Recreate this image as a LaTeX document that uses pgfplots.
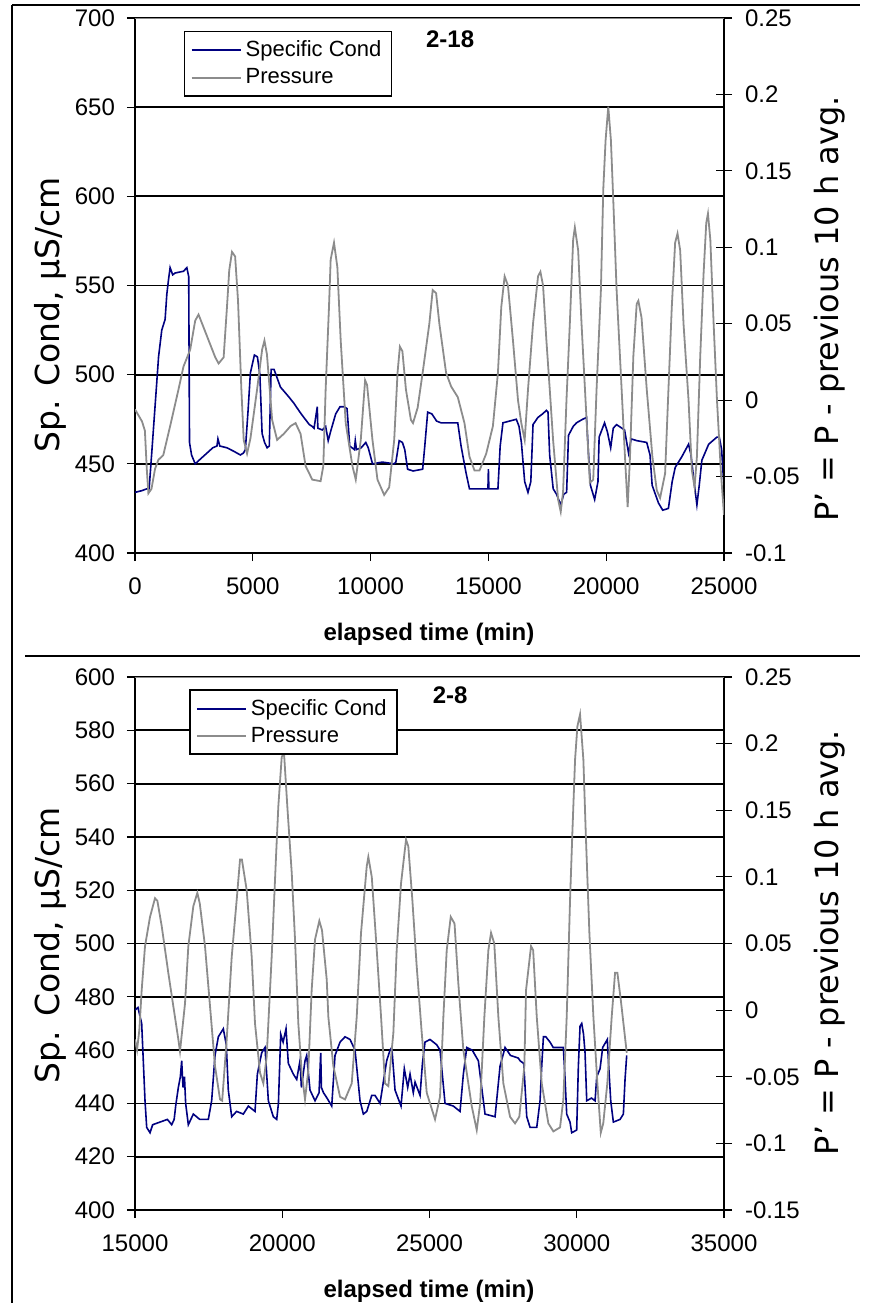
\documentclass[border=0pt]{standalone}
\usepackage{pgfplots}
\pgfplotsset{compat=1.18}
\usepackage{fontspec}
\setmainfont{Liberation Sans}
\newfontfamily\dejavu{DejaVu Sans}
\definecolor{condblue}{RGB}{0,0,128}
\definecolor{presgray}{RGB}{140,140,140}

\pgfplotsset{
  panel/.style={scale only axis, width=294.5pt, anchor=south west,
    /pgf/number format/assume math mode=true,
    /pgf/number format/1000 sep={},
    scaled x ticks=false, scaled y ticks=false,
    xticklabel style={font=\fontsize{12}{14}\selectfont, yshift=-5pt},
    yticklabel style={font=\fontsize{12}{14}\selectfont},
    axis line style={black, line width=0.6pt},
    tick style={black, line width=0.6pt}},
  leftax/.style={panel, axis x line*=bottom, axis y line*=left,
    tick align=outside, major tick length=4pt,
    yticklabel style={xshift=-2.5pt},
    ymajorgrids, grid style={black, line width=0.9pt},
    xlabel={elapsed time (min)},
    xlabel style={at={(axis description cs:0.499,-0.152)}, anchor=center,
      font=\fontsize{12}{14}\selectfont\bfseries},
    ylabel={Sp. Cond, µS/cm}},
  rightax/.style={panel, axis x line=none, axis y line*=right,
    tick align=center, major tick length=8pt,
    yticklabel style={xshift=3pt},
    ylabel={P’ = P - previous 10 h avg.},
    legend cell align=left,
    legend image code/.code={\draw[#1, line width=1pt] (0pt,0pt) -- (24.5pt,0pt);},
    legend style={draw=black, line width=0.8pt, fill=white,
      font=\fontsize{11}{13}\selectfont, anchor=north west,
      inner xsep=3pt, inner ysep=2.5pt, row sep=0.5pt}},
  cond/.style={condblue, line width=0.8pt, mark=none},
  pres/.style={presgray, line width=0.9pt, mark=none},
}

\begin{document}
\begin{tikzpicture}
\path[use as bounding box] (0,0) rectangle (437.5pt,-651.5pt);

% ---------- top panel: well 2-18 ----------
\begin{axis}[leftax, at={(67.5pt,-276.5pt)}, height=267.5pt,
  xmin=0, xmax=25000, ymin=400, ymax=700,
  xtick={0,5000,10000,15000,20000,25000},
  ytick={400,450,500,550,600,650,700},
  ylabel style={at={(axis description cs:-0.144,0.445)}, anchor=center,
    font=\dejavu\fontsize{16.5}{19}\selectfont}]
\addplot[cond] coordinates {
(0,434)(300,435)(500,436)(600,436)(710,456)(920,495)(1000,510)(1136,525)
(1278,531)(1350,545)(1420,553)(1490,560)(1600,556)(1700,557)(2058,558)
(2200,560)(2280,555)(2314,462)(2400,455)(2555,450)(2800,453)(3052,456)
(3300,459)(3478,460)(3520,464)(3600,460)(3904,459)(4200,457)(4472,455)
(4600,456)(4685,458)(4800,480)(4898,501)(5068,511)(5196,510)(5300,500)
(5395,467)(5500,462)(5608,459)(5700,460)(5778,503)(5900,503)(6175,493)
(6500,488)(6743,484)(7000,479)(7169,476)(7400,472)(7524,471)(7600,470)
(7737,482)(7760,470)(7950,469)(8092,471)(8200,463)(8300,468)(8518,478)
(8700,482)(8873,482)(9000,481)(9114,460)(9310,458)(9350,463)(9400,458)
(9600,459)(9796,462)(9900,459)(10081,450)(10500,451)(11000,450)(11073,451)
(11215,463)(11350,462)(11450,458)(11570,447)(11800,446)(12210,447)
(12300,460)(12423,479)(12600,478)(12800,474)(12990,473)(13300,473)
(13700,473)(13840,460)(14050,445)(14196,436)(14600,436)(14980,436)
(15000,447)(15020,436)(15405,436)(15500,460)(15618,473)(15900,474)
(16185,475)(16300,471)(16400,462)(16540,440)(16680,434)(16800,440)
(16894,472)(17100,476)(17300,478)(17462,480)(17530,479)(17600,455)
(17750,436)(17890,433)(18070,427)(18200,433)(18320,434)(18400,466)
(18600,471)(18740,473)(19000,475)(19165,476)(19230,460)(19330,438)
(19510,430)(19650,440)(19700,465)(19930,473)(20050,468)(20190,459)
(20300,470)(20440,472)(20780,469)(20950,456)(21060,464)(21300,463)
(21720,462)(21860,455)(21950,438)(22220,428)(22400,424)(22640,425)
(22800,440)(22930,448)(23210,454)(23496,461)(23600,455)(23710,442)
(23850,427)(23950,438)(24060,452)(24350,461)(24700,465)(24800,465)
(24900,458)(24960,445)(25000,438)};
\node[font=\fontsize{12}{14}\selectfont\bfseries] at (axis description cs:0.535,0.961) {2-18};
\end{axis}

\begin{axis}[rightax, at={(67.5pt,-276.5pt)}, height=267.5pt,
  xmin=0, xmax=25000, ymin=-0.1, ymax=0.25,
  ytick={-0.1,-0.05,0,0.05,0.1,0.15,0.2,0.25},
  yticklabels={-0.1,-0.05,0,0.05,0.1,0.15,0.2,0.25},
  ylabel style={at={(axis description cs:1.18,0.456)}, anchor=center,
    font=\dejavu\fontsize{16}{19}\selectfont},
  legend style={at={(0.083,0.976)}}]
\addlegendimage{cond}
\addlegendentry{Specific Cond}
\addplot[pres] coordinates {
(0,-0.006)(150,-0.010)(300,-0.014)(420,-0.020)(500,-0.045)(568,-0.061)
(700,-0.058)(850,-0.045)(994,-0.039)(1200,-0.036)(1491,-0.017)(1846,0.007)
(2058,0.022)(2342,0.033)(2555,0.052)(2697,0.056)(2850,0.050)(3052,0.042)
(3407,0.028)(3549,0.024)(3762,0.028)(3904,0.061)(4000,0.085)(4117,0.097)
(4250,0.094)(4373,0.065)(4515,0.007)(4614,-0.026)(4756,-0.035)(4900,-0.025)
(5182,0.007)(5395,0.033)(5494,0.039)(5600,0.030)(5821,-0.013)(6033,-0.026)
(6317,-0.022)(6601,-0.017)(6815,-0.015)(7027,-0.022)(7240,-0.043)
(7524,-0.052)(7879,-0.053)(7993,-0.043)(8092,0.007)(8234,0.061)(8305,0.092)
(8447,0.103)(8589,0.087)(8731,0.039)(8944,-0.015)(9228,-0.043)(9370,-0.052)
(9583,-0.026)(9767,0.013)(9850,0.010)(10079,-0.026)(10292,-0.052)
(10576,-0.062)(10789,-0.057)(11002,-0.026)(11144,0.018)(11243,0.035)
(11350,0.032)(11499,0.007)(11712,-0.013)(11800,-0.015)(11996,-0.005)
(12210,0.018)(12493,0.050)(12635,0.072)(12780,0.070)(12919,0.050)
(13203,0.018)(13416,0.009)(13700,0.002)(13984,-0.015)(14196,-0.037)
(14409,-0.046)(14622,-0.046)(14907,-0.035)(15191,-0.017)(15405,0.018)
(15547,0.061)(15689,0.081)(15830,0.075)(16043,0.039)(16256,0.000)
(16397,-0.015)(16540,-0.026)(16681,0.007)(16894,0.050)(17107,0.081)
(17207,0.084)(17320,0.075)(17462,0.039)(17604,0.007)(17746,-0.026)
(17959,-0.065)(18070,-0.073)(18170,-0.060)(18314,0.000)(18456,0.050)
(18598,0.105)(18669,0.113)(18810,0.098)(18953,0.050)(19123,0.000)
(19307,-0.054)(19450,-0.052)(19591,0.007)(19775,0.072)(19876,0.138)
(19974,0.170)(20088,0.192)(20200,0.170)(20300,0.131)(20442,0.072)
(20655,0.007)(20797,-0.037)(20911,-0.070)(21010,-0.037)(21153,0.029)
(21295,0.063)(21365,0.065)(21500,0.054)(21721,0.007)(21961,-0.037)
(22147,-0.059)(22287,-0.064)(22500,-0.048)(22642,0.007)(22784,0.061)
(22926,0.103)(23027,0.109)(23140,0.098)(23282,0.050)(23495,0.000)
(23637,-0.046)(23751,-0.057)(23850,-0.037)(23992,0.029)(24134,0.083)
(24247,0.116)(24319,0.122)(24420,0.105)(24560,0.050)(24702,0.000)
(24872,-0.048)(25000,-0.075)};
\addlegendentry{Pressure}
\draw[presgray, line width=0.7pt] (rel axis cs:0,1) -- (rel axis cs:1,1);
\end{axis}

% ---------- bottom panel: well 2-8 ----------
\begin{axis}[leftax, at={(67.5pt,-605pt)}, height=266.5pt,
  xmin=15000, xmax=35000, ymin=400, ymax=600,
  xtick={15000,20000,25000,30000,35000},
  ytick={400,420,440,460,480,500,520,540,560,580,600},
  ylabel style={at={(axis description cs:-0.144,0.497)}, anchor=center,
    font=\dejavu\fontsize{16.5}{19}\selectfont}]
\addplot[cond] coordinates {
(15000,475)(15100,476)(15227,470)(15340,441)(15397,431)(15510,429)
(15600,432)(15849,433)(16100,434)(16246,432)(16330,434)(16381,439)
(16472,446)(16540,450)(16585,456)(16630,446)(16680,450)(16720,440)
(16811,432)(16981,436)(17200,434)(17490,434)(17603,441)(17717,458)
(17830,465)(17999,468)(18100,462)(18169,445)(18283,435)(18450,437)
(18678,436)(18850,439)(19075,437)(19155,451)(19302,459)(19415,461)
(19528,441)(19697,435)(19812,434)(19870,440)(19948,466)(20030,463)
(20128,468)(20207,455)(20376,451)(20491,449)(20603,456)(20650,446)
(20773,456)(20830,458)(20943,445)(21113,441)(21250,444)(21306,459)
(21330,446)(21400,444)(21520,442)(21680,439)(21792,458)(21962,463)
(22132,465)(22302,464)(22472,460)(22641,441)(22754,436)(22870,437)
(23039,443)(23150,443)(23320,440)(23432,448)(23546,456)(23660,460)
(23720,461)(23830,445)(24033,439)(24145,453)(24260,446)(24339,451)
(24450,444)(24510,448)(24679,443)(24760,455)(24848,463)(25018,464)
(25245,462)(25358,460)(25528,440)(25810,439)(26037,437)(26150,451)
(26265,461)(26450,460)(26659,456)(26886,436)(27226,435)(27396,454)
(27566,461)(27750,458)(28017,457)(28075,456)(28200,455)(28302,435)
(28415,431)(28642,431)(28754,441)(28811,454)(28868,465)(28950,465)
(29093,463)(29200,461)(29545,461)(29600,450)(29659,436)(29771,433)
(29829,429)(29998,430)(30055,454)(30112,469)(30169,470)(30230,466)
(30282,459)(30339,441)(30500,442)(30622,441)(30679,450)(30791,453)
(30881,461)(31038,464)(31080,455)(31154,441)(31243,433)(31470,434)
(31583,436)(31640,449)(31696,458)};
\node[font=\fontsize{12}{14}\selectfont\bfseries] at (axis description cs:0.535,0.966) {2-8};
\end{axis}

\begin{axis}[rightax, at={(67.5pt,-605pt)}, height=266.5pt,
  xmin=15000, xmax=35000, ymin=-0.15, ymax=0.25,
  ytick={-0.15,-0.1,-0.05,0,0.05,0.1,0.15,0.2,0.25},
  yticklabels={-0.15,-0.1,-0.05,0,0.05,0.1,0.15,0.2,0.25},
  ylabel style={at={(axis description cs:1.18,0.502)}, anchor=center,
    font=\dejavu\fontsize{16}{19}\selectfont},
  legend style={at={(0.092,0.977)}}]
\addlegendimage{cond}
\addlegendentry{Specific Cond}
\addplot[pres] coordinates {
(15000,-0.022)(15070,-0.030)(15147,-0.015)(15227,0.015)(15340,0.048)
(15510,0.070)(15679,0.084)(15760,0.082)(15907,0.063)(16131,0.028)
(16301,0.003)(16472,-0.022)(16528,-0.031)(16698,0.005)(16811,0.048)
(16981,0.078)(17117,0.088)(17200,0.080)(17377,0.048)(17547,0.003)
(17717,-0.042)(17887,-0.067)(17960,-0.068)(18114,-0.022)(18284,0.040)
(18454,0.083)(18566,0.113)(18630,0.113)(18793,0.090)(18963,0.040)
(19075,-0.010)(19245,-0.047)(19358,-0.055)(19471,-0.035)(19641,0.040)
(19788,0.115)(19867,0.153)(19982,0.190)(20060,0.193)(20172,0.153)
(20322,0.103)(20434,0.053)(20546,-0.010)(20661,-0.047)(20773,-0.067)
(20885,-0.045)(20999,0.015)(21113,0.053)(21259,0.067)(21350,0.060)
(21510,0.023)(21565,-0.005)(21735,-0.042)(21962,-0.065)(22132,-0.067)
(22359,-0.055)(22529,-0.005)(22675,0.058)(22869,0.108)(22923,0.115)
(23040,0.100)(23209,0.045)(23355,-0.005)(23490,-0.055)(23603,-0.057)
(23773,-0.017)(23886,0.045)(24033,0.095)(24203,0.128)(24280,0.123)
(24417,0.083)(24565,0.033)(24736,-0.017)(24906,-0.062)(25188,-0.082)
(25358,-0.065)(25471,-0.005)(25585,0.045)(25721,0.070)(25850,0.065)
(25979,0.020)(26150,-0.030)(26434,-0.072)(26604,-0.090)(26720,-0.070)
(26863,-0.005)(26999,0.045)(27090,0.058)(27200,0.050)(27338,-0.005)
(27508,-0.055)(27735,-0.080)(27905,-0.085)(28050,-0.080)(28221,-0.042)
(28278,0.015)(28448,0.048)(28520,0.045)(28642,-0.005)(28811,-0.055)
(29036,-0.085)(29206,-0.091)(29433,-0.088)(29545,-0.067)(29659,-0.005)
(29773,0.083)(29851,0.133)(29943,0.188)(30022,0.213)(30112,0.222)
(30225,0.188)(30306,0.133)(30429,0.058)(30565,-0.005)(30701,-0.055)
(30816,-0.092)(30900,-0.085)(31038,-0.055)(31187,-0.005)(31301,0.028)
(31380,0.028)(31494,0.008)(31698,-0.032)};
\addlegendentry{Pressure}
\draw[presgray, line width=0.7pt] (rel axis cs:0,1) -- (rel axis cs:1,1);
\end{axis}

% outer frame lines of the figure
\draw[line width=1pt] (6pt,-2.5pt) -- (430pt,-2.5pt);
\draw[line width=1pt] (6pt,-2.5pt) -- (6pt,-651.5pt);
\draw[line width=1pt] (12.5pt,-328pt) -- (430pt,-328pt);
\end{tikzpicture}
\end{document}
